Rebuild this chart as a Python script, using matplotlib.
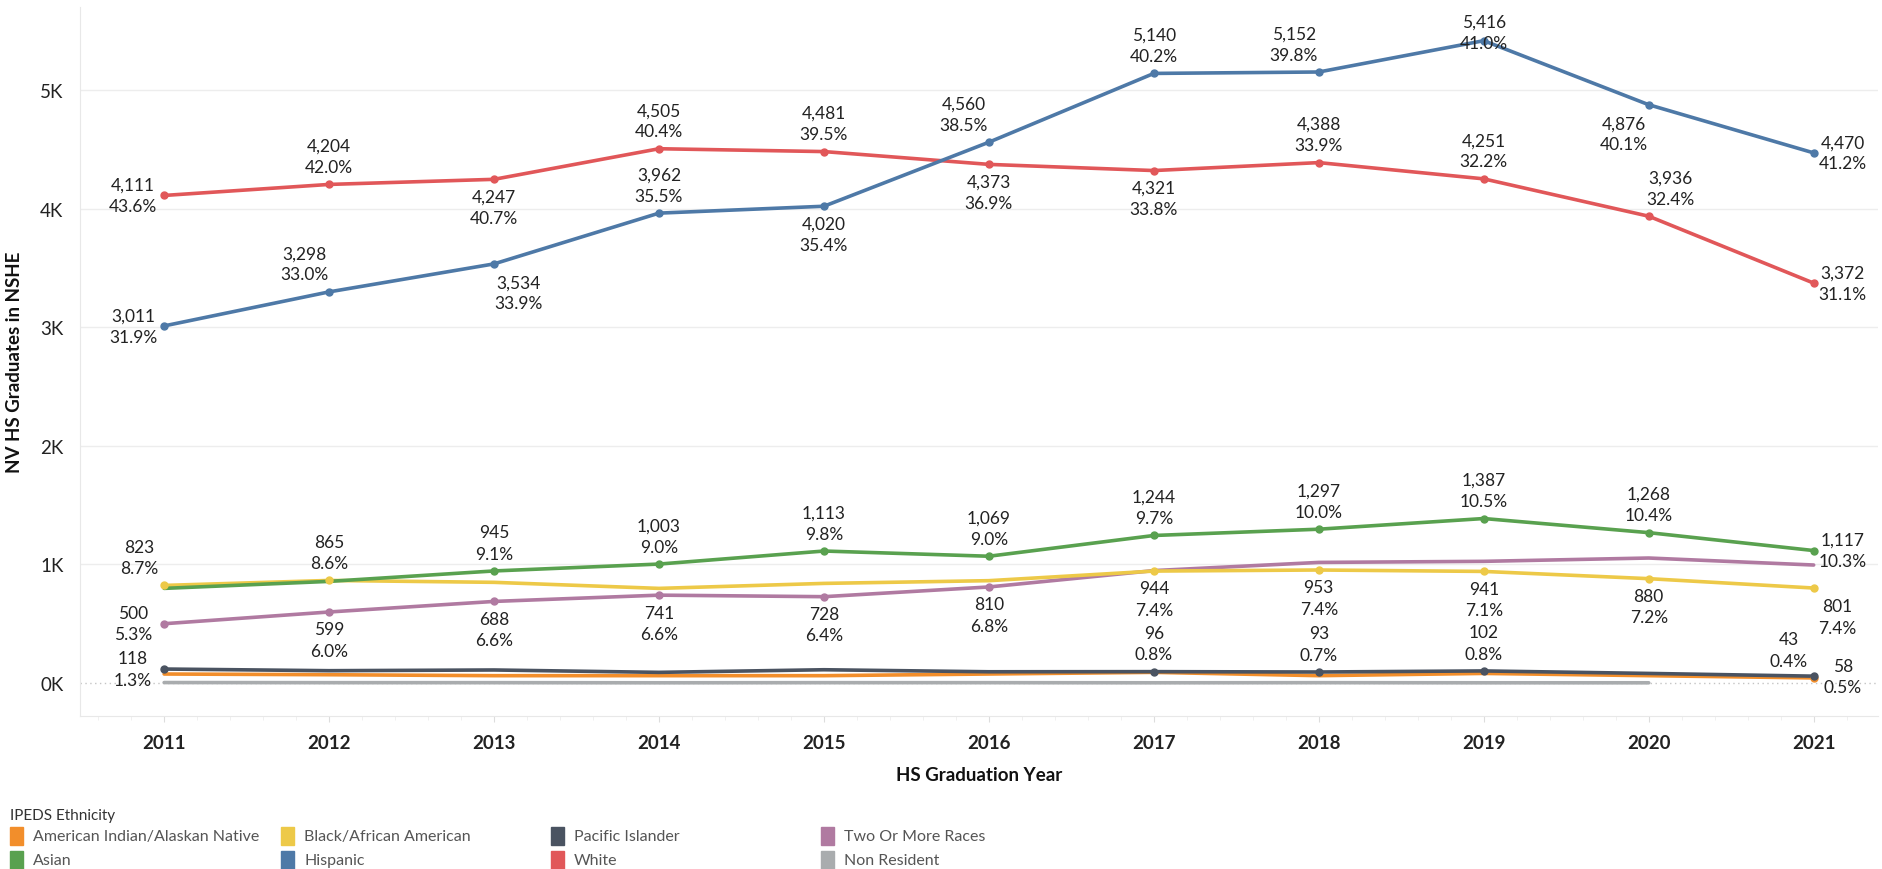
import numpy as np
import matplotlib.pyplot as plt
import matplotlib as mpl
from matplotlib.patches import Rectangle
from matplotlib.ticker import FuncFormatter, MultipleLocator

mpl.rcParams["font.family"] = ["Lato", "DejaVu Sans"]

years = [2011, 2012, 2013, 2014, 2015, 2016, 2017, 2018, 2019, 2020, 2021]

hispanic     = [3011, 3298, 3534, 3962, 4020, 4560, 5140, 5152, 5416, 4876, 4470]
hispanic_pct = [31.9, 33.0, 33.9, 35.5, 35.4, 38.5, 40.2, 39.8, 41.0, 40.1, 41.2]

white     = [4111, 4204, 4247, 4505, 4481, 4373, 4321, 4388, 4251, 3936, 3372]
white_pct = [43.6, 42.0, 40.7, 40.4, 39.5, 36.9, 33.8, 33.9, 32.2, 32.4, 31.1]

asian     = [798, 857, 945, 1003, 1113, 1069, 1244, 1297, 1387, 1268, 1117]
asian_pct = [None, None, 9.1, 9.0, 9.8, 9.0, 9.7, 10.0, 10.5, 10.4, 10.3]

black     = [823, 865, 849, 798, 840, 863, 944, 953, 941, 880, 801]
black_pct = [8.7, 8.6, None, None, None, None, 7.4, 7.4, 7.1, 7.2, 7.4]

two_more     = [500, 599, 688, 741, 728, 810, 948, 1017, 1026, 1054, 995]
two_more_pct = [5.3, 6.0, 6.6, 6.6, 6.4, 6.8, None, None, None, None, None]

pacific     = [118, 104, 110, 90, 112, 95, 96, 93, 102, 81, 58]
pacific_pct = [1.3, None, None, None, None, None, 0.8, 0.7, 0.8, None, 0.5]

am_indian     = [76, 70, 62, 62, 62, 76, 90, 62, 81, 62, 43]
am_indian_pct = [None, None, None, None, None, None, None, None, None, None, 0.4]

non_resident = [4, 3, 3, 2, 3, 3, 2, 3, 2, 2, np.nan]

# label placement per point (pixel offsets of the label centre)
OFFS = {
    "U": (0, 28), "D": (0, -28), "L": (-31, 0), "R": (29, 0),
    "UL": (-25, 28), "UR": (22, 28), "DR": (24, -29), "DL": (-25, -29),
    "T": (0, 8), "-": None,
}
place = {
    "Hispanic": ["L", "UL", "DR", "U", "D", "UL", "U", "UL", "T", "DL", "R"],
    "White":    ["L", "U", "D", "U", "U", "D", "D", "U", "U", "UR", "R"],
    "Asian":    ["-", "-", "U", "U", "U", "U", "U", "U", "U", "U", "R"],
    "Black/African American": ["UL", "U", "-", "-", "-", "-", "D", "D", "D", "D", "DR"],
    "Two Or More Races": ["L", "D", "D", "D", "D", "D", "-", "-", "-", "-", "-"],
    "Pacific Islander": ["L", "-", "-", "-", "-", "-", "U", "U", "U", "-", "R"],
    "American Indian/Alaskan Native": ["-"] * 10 + ["UL"],
}

colors = {
    "American Indian/Alaskan Native": "#f28e2b",
    "Black/African American": "#edc948",
    "Pacific Islander": "#4a5361",
    "Two Or More Races": "#b07aa1",
    "Asian": "#59a14f",
    "Hispanic": "#4e79a7",
    "White": "#e15759",
    "Non Resident": "#a9acae",
}

# draw order: back to front
series = [
    ("Non Resident", non_resident, [None] * 11),
    ("American Indian/Alaskan Native", am_indian, am_indian_pct),
    ("Pacific Islander", pacific, pacific_pct),
    ("Two Or More Races", two_more, two_more_pct),
    ("Black/African American", black, black_pct),
    ("Asian", asian, asian_pct),
    ("White", white, white_pct),
    ("Hispanic", hispanic, hispanic_pct),
]

W, H = 1882, 870
fig = plt.figure(figsize=(W / 100, H / 100), dpi=100)
ax_l, ax_r, ax_t, ax_b = 80, 1878, 8, 717
ax = fig.add_axes([ax_l / W, 1 - ax_b / H, (ax_r - ax_l) / W, (ax_b - ax_t) / H])

ax.set_xlim(2010.49, 2021.39)
ax.set_ylim(-278, 5700)

for y in range(1000, 6000, 1000):
    ax.axhline(y, color="#ededed", lw=1, zorder=0)
ax.axhline(0, color="#c4c4c4", lw=1, ls=(0, (1, 2.5)), zorder=0)

for name, vals, pcts in series:
    c = colors[name]
    ax.plot(years, vals, color=c, lw=2.6, solid_capstyle="round", zorder=2)
    lab = place.get(name)
    for i, (x, v, p) in enumerate(zip(years, vals, pcts)):
        if p is None:
            continue
        ax.plot([x], [v], "o", color=c, ms=5, zorder=3)
        off = OFFS[lab[i]]
        if off is None:
            continue
        ax.annotate(f"{v:,}\n{p:.1f}%", (x, v), xytext=off, textcoords="offset pixels",
                    ha="center", va="center", multialignment="center",
                    fontsize=12.5, color="#222222", linespacing=1.4, zorder=4)

for s in ("top", "right"):
    ax.spines[s].set_visible(False)
ax.spines["left"].set_color("#e8e8e8")
ax.spines["bottom"].set_color("#e8e8e8")

ax.set_xticks(years)
ax.xaxis.set_minor_locator(MultipleLocator(0.2))
ax.tick_params(axis="x", which="major", length=4, color="#dddddd", pad=9,
               labelsize=13.5, labelcolor="#222222")
ax.tick_params(axis="x", which="minor", length=3, color="#eeeeee")
for t in ax.get_xticklabels():
    t.set_fontweight("bold")
ax.set_yticks(range(0, 6000, 1000))
ax.yaxis.set_major_formatter(FuncFormatter(lambda v, _: f"{v / 1000:.0f}K"))
ax.tick_params(axis="y", length=0, pad=12, labelsize=13.5, labelcolor="#222222")

ax.set_xlabel("HS Graduation Year", fontsize=13.5, fontweight="bold", color="#111111", labelpad=11)
ax.set_ylabel("NV HS Graduates in NSHE", fontsize=13.5, fontweight="bold", color="#111111", labelpad=12)

# legend
legend_rows = [
    ["American Indian/Alaskan Native", "Black/African American", "Pacific Islander", "Two Or More Races"],
    ["Asian", "Hispanic", "White", "Non Resident"],
]
col_x = [10, 281, 551, 821]
row_y = [837, 861]
fig.text(10 / W, 1 - 816 / H, "IPEDS Ethnicity", fontsize=11, color="#333333", va="center", ha="left")
for r, row in enumerate(legend_rows):
    for c, name in enumerate(row):
        x0, yc = col_x[c], row_y[r]
        fig.patches.append(Rectangle((x0 / W, 1 - (yc + 9) / H), 13 / W, 18 / H,
                                     transform=fig.transFigure, color=colors[name]))
        fig.text((x0 + 23) / W, 1 - yc / H, name, fontsize=11.5, color="#555555", va="center", ha="left")

fig.savefig("out.png", dpi=100)
